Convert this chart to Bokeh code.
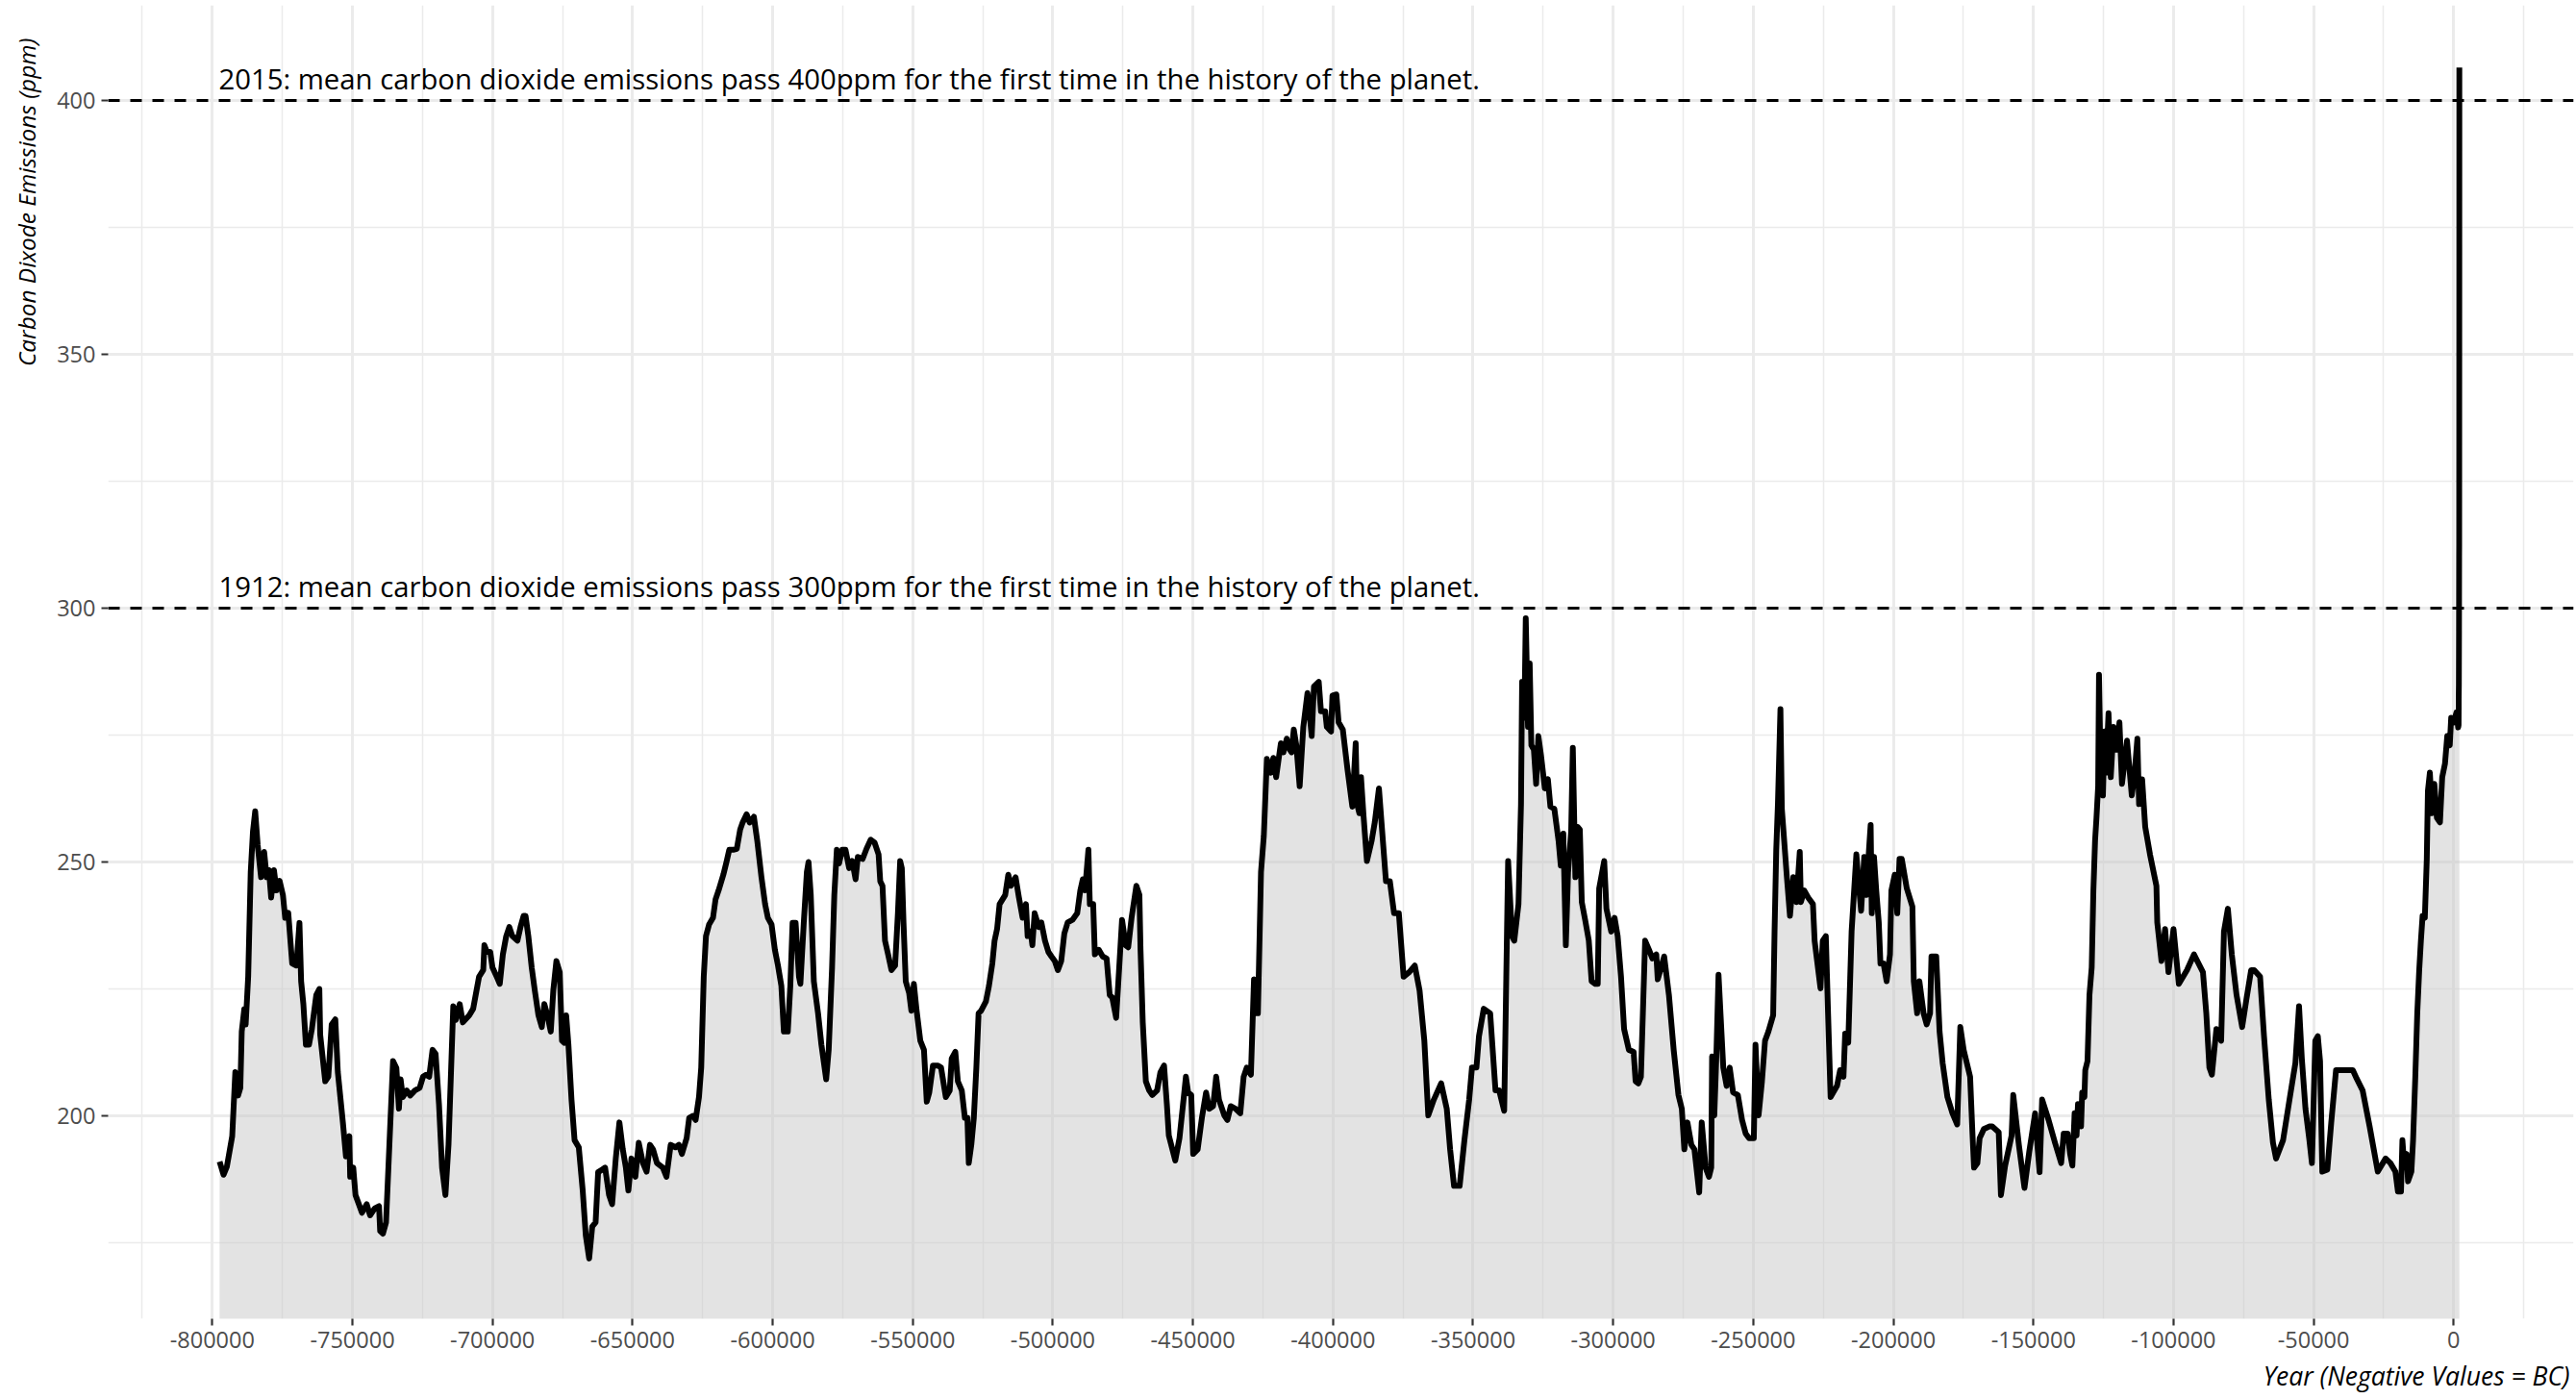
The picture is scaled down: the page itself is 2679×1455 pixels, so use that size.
from bokeh.plotting import figure
from bokeh.models import Range1d, FixedTicker, BasicTickFormatter, Span, Title, ColumnDataSource
from bokeh.core.properties import value
from bokeh.embed import file_html
from bokeh.resources import INLINE

# ---- data: (year, CO2 ppm) ----
seg_800k = [(-797400, 191), (-796000, 188.4), (-794800, 190), (-792900, 196), (-791800, 208.6), (-790800, 204),
    (-790000, 205.5), (-789500, 216.6), (-788600, 221), (-788100, 218), (-787200, 227.4), (-786300, 248), (-785500, 256),
    (-784700, 260), (-783800, 253.3), (-782600, 247), (-781500, 252), (-780600, 247), (-779800, 248.4), (-779000, 243),
    (-778000, 248.4), (-777100, 244.4), (-776000, 246.3), (-774800, 243.5), (-774000, 239), (-772900, 240), (-771500, 230),
    (-770000, 229.6), (-768900, 238), (-768300, 226.5), (-767500, 222), (-766600, 214), (-765500, 214), (-764500, 217),
    (-762900, 223.8), (-761800, 225), (-761500, 216), (-759700, 206.8), (-758600, 207.7), (-757400, 218), (-756100, 219),
    (-755200, 208.6), (-753400, 198.7), (-752300, 192), (-751100, 196), (-750800, 188), (-749700, 189.8), (-748900, 184.4),
    (-747700, 182.6), (-746600, 180.9), (-744900, 182.6), (-743700, 180.4), (-742000, 181.8), (-740500, 182.2),
    (-740100, 177.3), (-739100, 176.8), (-738000, 179), (-736800, 194.3), (-735500, 210.8), (-734300, 209.4),
    (-733400, 201.4), (-732800, 207.2), (-732000, 203.7), (-730600, 205), (-729400, 204), (-727700, 205), (-726000, 205.5),
    (-724800, 207.7), (-723700, 208.1), (-722600, 207.7), (-721400, 213), (-720300, 212.2), (-719100, 202.3),
    (-718000, 189.8), (-716800, 184.4), (-715700, 194.3), (-714000, 221.6), (-713100, 218.9), (-711700, 222),
    (-710600, 218.4), (-708300, 219.8), (-706900, 221.1), (-704800, 227.4), (-703300, 228.7), (-702900, 233.6),
    (-702000, 232.3), (-700800, 232.3), (-700000, 229.2), (-698500, 227.4), (-697400, 226), (-696300, 231.8),
    (-695100, 235.4), (-694000, 237.2), (-692900, 235.4), (-691100, 234.5), (-690000, 237.2), (-688900, 239.4)]

seg_690k = [(-688200, 239.4), (-687200, 235.4), (-686000, 229.2), (-684900, 224.7), (-683600, 219.8), (-682400, 217.5),
    (-681500, 222), (-680400, 219.8), (-679200, 216.6), (-678300, 224.7), (-677200, 230.5), (-676000, 228.3),
    (-675200, 214.8), (-674400, 214.4), (-673700, 219.8), (-672900, 214), (-671800, 203.2), (-670700, 195.2),
    (-669200, 193.8), (-667800, 185.3), (-666700, 176.4), (-665500, 171.9), (-664400, 178.2), (-663200, 179),
    (-662300, 188.9), (-660900, 189.4), (-659800, 189.8), (-658400, 184.4), (-657300, 182.6), (-656000, 191.6),
    (-654700, 198.7), (-653500, 193.4), (-652400, 189.8), (-651500, 185.3), (-650400, 191.6), (-649000, 188),
    (-647800, 194.7), (-646300, 190.7), (-645000, 189), (-643800, 194.3), (-642700, 193.4), (-641300, 190.7),
    (-639200, 189.8), (-637900, 188), (-636400, 194.3), (-634700, 193.8), (-633500, 194.3), (-632400, 192.5),
    (-630700, 195.6), (-629800, 199.6), (-628400, 200), (-627500, 199.2), (-626300, 203.7), (-625500, 209.5),
    (-624600, 227.4), (-623800, 235.4), (-622700, 237.7), (-621300, 239), (-620400, 242.6), (-619300, 244.4),
    (-617600, 247.5), (-616400, 250.2), (-615500, 252.4), (-614100, 252.4), (-612800, 252.6), (-611600, 256.4),
    (-610700, 257.8), (-609300, 259.4), (-608200, 257.8), (-606700, 258.9), (-605500, 254.2), (-604000, 247),
    (-602700, 241.7), (-601700, 239), (-600400, 237.7), (-599200, 232.7), (-598100, 229.6), (-596900, 225.6),
    (-596000, 216.6), (-594600, 216.6), (-593700, 225.6), (-592900, 238), (-591800, 238), (-590600, 227.4),
    (-590100, 226), (-588900, 238), (-587800, 248), (-587200, 250), (-586400, 243.5), (-585300, 226.5), (-583800, 220.2),
    (-582600, 214), (-580900, 207.2), (-580000, 213), (-578800, 229.2), (-578000, 243.5), (-577100, 252.4),
    (-576300, 249.7), (-575200, 252.4), (-574000, 252.4)]

seg_575k = [(-572700, 248.8), (-571600, 250.2), (-570400, 246.6), (-569600, 251), (-567900, 250.6), (-566500, 252.6),
    (-565000, 254.4), (-563600, 253.8), (-562200, 251.5), (-561600, 246.2), (-560800, 245.3), (-559900, 234.5),
    (-558800, 231.8), (-557600, 228.7), (-556300, 229.6), (-555300, 239.9), (-554500, 250.2), (-553900, 248.8),
    (-553300, 238.1), (-552500, 226.5), (-551300, 224.2), (-550500, 220.7), (-549600, 226), (-548700, 221.1),
    (-547300, 214.8), (-546000, 213), (-545000, 202.8), (-544100, 204.6), (-542800, 209.9), (-541000, 209.9),
    (-539900, 209.5), (-538200, 203.7), (-536800, 205), (-536100, 211.3), (-534800, 212.6), (-533900, 206.8),
    (-532500, 205), (-531400, 199.6), (-530500, 199.6), (-530000, 190.7), (-529100, 194.3), (-528200, 199.6),
    (-527300, 209.5), (-526500, 220.2), (-525600, 220.7), (-523900, 222.5), (-522800, 225.6), (-521600, 230),
    (-520800, 234.5), (-519900, 236.8), (-519000, 241.7), (-517000, 243.5), (-515900, 247.5), (-515000, 245.3),
    (-513300, 247), (-512100, 243), (-510800, 239), (-509600, 241.7), (-509000, 235.4), (-507900, 236.3),
    (-507300, 233.6), (-506500, 239.9), (-505000, 237.2), (-504100, 238.1), (-502800, 234.5), (-501600, 232.3),
    (-500500, 231.4), (-499300, 230.5), (-498200, 228.7), (-497000, 230.5), (-495900, 235.9), (-494700, 238.1),
    (-493000, 238.6), (-491300, 239.9), (-490200, 244.4), (-489300, 246.6), (-488500, 244.4), (-487300, 252.4),
    (-486800, 241.7), (-485600, 241.7), (-485000, 231.8), (-483600, 232.7), (-482200, 231.4), (-480800, 231),
    (-479700, 223.8), (-478800, 223.3), (-477400, 219.3), (-476700, 225.6), (-475300, 238.6), (-474000, 233.6),
    (-473100, 233.2), (-471900, 239), (-470200, 245.3), (-469100, 243.5), (-468700, 232.7), (-467900, 218.4),
    (-466800, 206.8), (-465600, 205), (-464500, 204.1), (-462800, 205), (-461600, 208.6), (-460300, 209.9),
    (-459300, 202.3)]

seg_460k = [(-458600, 196.1), (-456300, 191.2), (-454800, 195.6), (-452500, 207.7), (-451700, 204.6), (-450600, 204.1),
    (-449900, 192.5), (-448300, 193.4), (-446800, 199.6), (-445300, 204.6), (-444200, 201.4), (-442800, 201.9),
    (-441700, 207.7), (-440700, 203.2), (-438800, 200.1), (-437700, 199.2), (-436500, 201.9), (-434800, 201.4),
    (-433100, 200.5), (-431900, 207.7), (-430800, 209.5), (-429300, 208.1), (-428200, 226.9), (-427400, 220.2),
    (-426800, 220.2), (-425700, 248), (-424700, 255.1), (-423600, 270.3), (-422200, 267.6), (-421300, 270.5),
    (-420300, 266.7), (-419400, 270.3), (-418600, 273.4), (-417700, 271.6), (-416500, 274.3), (-415400, 272.1),
    (-414800, 271.6), (-414000, 276.1), (-413100, 273), (-411900, 264.9), (-410600, 276.6), (-409100, 283.3),
    (-407600, 274.8), (-406800, 284.6), (-405100, 285.5), (-404300, 279.7), (-402800, 279.7), (-402200, 276.6),
    (-400700, 275.7), (-400200, 282.8), (-398800, 283), (-398000, 277.5), (-396500, 276.1), (-394800, 268.1),
    (-393100, 260.9), (-391900, 273.4), (-391400, 261.4), (-390600, 259.6), (-390000, 266.7), (-389100, 259.1),
    (-387900, 250.2), (-386200, 254.2), (-385100, 257.8), (-383600, 264.5), (-382200, 254.2), (-381100, 246.2),
    (-379700, 246.2), (-378200, 239.9), (-376500, 239.9), (-374800, 227.4), (-372800, 228.3), (-370800, 229.6),
    (-369100, 224.7), (-367400, 214.8), (-366000, 200.1), (-364000, 203.2), (-361400, 206.4), (-359400, 201.4),
    (-358200, 193.4), (-356800, 186.2), (-354800, 186.2), (-353100, 195.2), (-351400, 203.2), (-350400, 209.5),
    (-348800, 209.5), (-347900, 215.7), (-346200, 221.1), (-343900, 220.2)]

seg_340k = [(-342000, 205), (-340700, 205), (-338900, 201), (-337500, 250.2), (-336100, 235.4), (-335300, 234.5),
    (-333800, 241.7), (-332900, 261.4), (-332500, 285.5), (-331700, 278.4), (-331200, 298), (-330400, 276.6),
    (-329800, 289.1), (-329200, 273), (-328300, 272.1), (-327500, 265.4), (-326700, 274.8), (-325800, 271.2),
    (-324400, 264.5), (-323300, 266.3), (-322400, 260.9), (-321000, 260.5), (-319500, 254.2), (-318700, 249.3),
    (-317800, 255.6), (-316900, 233.6), (-316100, 247.9), (-315000, 256), (-314400, 272.5), (-313500, 247),
    (-312700, 256.9), (-311900, 256.4), (-311200, 242.1), (-310000, 238.6), (-308700, 234.5), (-307700, 226.5),
    (-306400, 226), (-305500, 226), (-305000, 244.8), (-303200, 250.2), (-302400, 240.8), (-300700, 236.3),
    (-299500, 239), (-298400, 235.4), (-297200, 227.4), (-296100, 217.1), (-294400, 213), (-292700, 212.6),
    (-292000, 206.8), (-291000, 206.4), (-290100, 207.7), (-289400, 220.2), (-288600, 234.5), (-287200, 232.7),
    (-286000, 231), (-284600, 231.8), (-284100, 226.9), (-282900, 229.2), (-281800, 231.4), (-280100, 223.8),
    (-278400, 213), (-276700, 204.1), (-275500, 201.4), (-274600, 193.4), (-273500, 198.7), (-272100, 194.3),
    (-271000, 193.4), (-269300, 184.9), (-268400, 198.7), (-267000, 189.8), (-265800, 188), (-265000, 189.8),
    (-264700, 211.7), (-263900, 200.1), (-263200, 211.3), (-262400, 227.8), (-260700, 209.5), (-259500, 205.9),
    (-258400, 209.5), (-257200, 204.6), (-255500, 204.1), (-254000, 199.2), (-252700, 196.5), (-251500, 195.6),
    (-249800, 195.6), (-249200, 214), (-248100, 200.1), (-246900, 206.8), (-245800, 214.8), (-244600, 216.6),
    (-242900, 219.8), (-242400, 236.3), (-241800, 252.4), (-241200, 261.4), (-240300, 280.1), (-239800, 260.5),
    (-239200, 256), (-238000, 247), (-236900, 239.4), (-235700, 247), (-234600, 242.1), (-233400, 252),
    (-233000, 242.1), (-231800, 244.4), (-230400, 243), (-228700, 241.7), (-228100, 234.5)]

seg_230k = [(-227500, 231.8), (-226000, 225.1), (-225200, 234.5), (-224100, 235.4), (-223300, 220.2), (-222400, 203.7),
    (-220100, 205.9), (-219000, 209), (-217800, 207.7), (-217200, 216.2), (-216100, 214.4), (-214900, 236.3),
    (-214100, 243.5), (-213200, 251.5), (-212300, 245.3), (-211500, 240.4), (-210400, 251), (-209600, 243.5),
    (-208700, 252.4), (-208100, 257.3), (-207700, 239.9), (-206900, 251), (-206100, 244.4), (-205200, 238.1),
    (-204600, 230), (-203500, 230), (-202400, 226.5), (-201200, 231.8), (-200700, 244.4), (-199500, 247.5),
    (-198600, 239.9), (-197800, 250.6), (-197000, 250.6), (-195200, 244.8), (-193200, 241.2), (-192700, 226.5),
    (-191500, 220.2), (-190700, 226.5), (-189200, 220.2), (-188100, 218), (-186900, 220.2), (-186400, 231.4),
    (-184700, 231.4), (-183500, 216.6), (-182400, 210.4), (-180700, 203.7), (-178900, 200.5), (-177200, 198.3),
    (-176100, 217.5), (-174900, 213), (-172600, 207.7), (-171800, 197), (-171200, 189.8), (-170000, 190.7),
    (-169200, 195.6), (-167700, 197.4), (-165800, 197.9), (-164700, 197.9), (-162400, 196.8), (-161600, 184.4),
    (-160100, 190.2), (-157800, 196.1), (-157200, 204.1), (-155200, 194.3), (-153200, 185.8), (-151500, 192.9),
    (-149400, 200.5), (-148600, 194.3), (-147800, 188.9), (-146900, 203.2), (-144600, 199.2), (-142300, 194.7),
    (-140100, 190.7), (-139200, 196.5), (-137800, 196.5), (-136900, 192.5), (-136100, 190.2), (-135300, 200.5),
    (-134600, 196.1), (-134100, 202.3), (-133000, 197.9), (-132600, 204.6), (-131800, 203.7), (-131500, 209),
    (-130700, 210.8), (-130000, 223.8), (-129200, 229.2), (-128600, 244.4), (-128000, 254.2), (-127500, 258.7),
    (-126900, 264.9), (-126600, 286.9), (-126100, 271.2), (-125200, 263.1), (-124600, 275.7), (-124100, 267.6),
    (-123200, 279.3), (-122400, 266.7), (-121400, 276.6), (-120400, 272.1), (-119300, 277.5), (-118400, 265.4),
    (-116600, 273.9), (-114900, 263.1)]

seg_115k = [(-114000, 266.7), (-112900, 274.3), (-112300, 261.4), (-111200, 266.3), (-110100, 256.9), (-108400, 251.5),
    (-106100, 245.3), (-105800, 238.1), (-104300, 230.5), (-103000, 236.8), (-101800, 228.3), (-100000, 236.8),
    (-98100, 226), (-95200, 228.7), (-92700, 231.8), (-89500, 228.3), (-88300, 220.2), (-87200, 209.5), (-86300, 208.1),
    (-84700, 217.1), (-83000, 214.8), (-82000, 236.3), (-80600, 240.8), (-79200, 231.8), (-77500, 223.8),
    (-75500, 217.5), (-74000, 222.9), (-72300, 228.7), (-71200, 228.7), (-69100, 227.4), (-67700, 215.7),
    (-66000, 203.2), (-64500, 194.7), (-63400, 191.6), (-60900, 195.2), (-58600, 203.2), (-56500, 210.4),
    (-55200, 221.6), (-54200, 211.3), (-52900, 201.4), (-51500, 195.2), (-50600, 190.7), (-49400, 214.8),
    (-48500, 215.7), (-47700, 210.8), (-46900, 189), (-45100, 189.4), (-43700, 198.7), (-42000, 209), (-39100, 209),
    (-36000, 209), (-34600, 207.3), (-32500, 205), (-30000, 197.9), (-27100, 189), (-24300, 191.6), (-22600, 190.7),
    (-20800, 189), (-19900, 185.1), (-18800, 185.1), (-18300, 195.2), (-17600, 189.8), (-16800, 192.5),
    (-16300, 187.1), (-15100, 189), (-14500, 195.2), (-13700, 207.7), (-13000, 220.2), (-12300, 228.7),
    (-11700, 234.5), (-11100, 239.4), (-10300, 239), (-9600, 250.6), (-9200, 264), (-8500, 267.6), (-7700, 259.6),
    (-6900, 265.4), (-6000, 258.7), (-4900, 257.8), (-4100, 266.7), (-3100, 269.4), (-2300, 274.8), (-1400, 273),
    (-900, 278.4)]

seg_recent = [(0, 277.5), (1000, 279.5), (1600, 276.5), (1750, 277), (1800, 282.5), (1850, 285), (1900, 295.5),
    (1912, 300), (1940, 310), (1958, 312.3), (1970, 325.7), (1980, 338.8), (1990, 354.4), (2000, 369.7),
    (2010, 389.9), (2015, 400.8), (2017, 406.5)]

threshold_ppm = [300, 400]
threshold_notes = [
    "1912: mean carbon dioxide emissions pass 300ppm for the first time in the history of the planet.",
    "2015: mean carbon dioxide emissions pass 400ppm for the first time in the history of the planet.",
]
x_major_ticks = list(range(-800000, 1, 50000))
x_minor_ticks = list(range(-825000, 30000, 50000))
y_major_ticks = [200, 250, 300, 350, 400]
y_minor_ticks = [175, 225, 275, 325, 375]
x_title = "Year (Negative Values = BC)"
y_title = "Carbon Dixode Emissions (ppm)"

# ---- assemble ----
points = seg_800k + seg_690k + seg_575k + seg_460k + seg_340k + seg_230k + seg_115k + seg_recent
years = [pt[0] for pt in points]
co2 = [pt[1] for pt in points]
src = ColumnDataSource(dict(year=years, co2=co2))

FONT = "Open Sans"
GRID = "#EBEBEB"
X0, X1 = -837174, 42798
Y0, Y1 = 160.04, 418.75

p = figure(width=2679, height=1455, output_backend="svg", toolbar_location=None,
           x_range=Range1d(X0, X1), y_range=Range1d(Y0, Y1),
           min_border_left=110, min_border_right=3, min_border_top=5, min_border_bottom=84)
p.outline_line_color = None
p.background_fill_color = "white"
p.border_fill_color = "white"

# axes
p.xaxis.ticker = FixedTicker(ticks=x_major_ticks, minor_ticks=x_minor_ticks)
p.yaxis.ticker = FixedTicker(ticks=y_major_ticks, minor_ticks=y_minor_ticks)
p.xaxis.formatter = BasicTickFormatter(use_scientific=False)
p.xaxis.major_label_overrides = {t: str(t) for t in x_major_ticks}
for ax in (p.xaxis, p.yaxis):
    ax.axis_line_color = None
    ax.minor_tick_line_color = None
    ax.major_tick_in = 0
    ax.major_tick_out = 7
    ax.major_tick_line_color = "#333333"
    ax.major_tick_line_width = 2.2
    ax.major_label_text_font = FONT
    ax.major_label_text_font_size = "23.5px"
    ax.major_label_text_color = "#4D4D4D"
p.xaxis.major_label_standoff = 6
p.yaxis.major_label_standoff = 6

# grid
for g in (p.xgrid, p.ygrid):
    g.grid_line_color = GRID
    g.grid_line_width = 3
    g.minor_grid_line_color = GRID
    g.minor_grid_line_width = 1.5

# axis titles, end-aligned as in the reference (ggplot hjust = 1)
p.add_layout(Title(text=y_title, align="right", vertical_align="top", text_font=FONT,
                   text_font_size="24.4px", text_font_style="italic", text_color="black",
                   standoff=21, offset=34), "left")
p.add_layout(Title(text=x_title, align="right", vertical_align="bottom", text_font=FONT,
                   text_font_size="26.5px", text_font_style="italic", text_color="black",
                   standoff=12, offset=4), "below")

# area + line
p.varea(x="year", y1=0, y2="co2", source=src, fill_color="#C7C7C7", fill_alpha=0.5)
p.line(x="year", y="co2", source=src, line_color="black", line_width=6, line_join="round")

# thresholds
for v in threshold_ppm:
    p.add_layout(Span(location=v, dimension="width", line_color="black", line_width=3, line_dash="12 11"))

note_src = ColumnDataSource(dict(x=[years[0]] * len(threshold_ppm), y=threshold_ppm, text=threshold_notes))
p.text(x="x", y="y", text="text", source=note_src, text_font=value(FONT), text_font_size="29.3px",
       text_color="black", text_align="left", text_baseline="alphabetic", x_offset=-1, y_offset=-22.5)

open("out.html", "w").write(file_html(p, INLINE))
